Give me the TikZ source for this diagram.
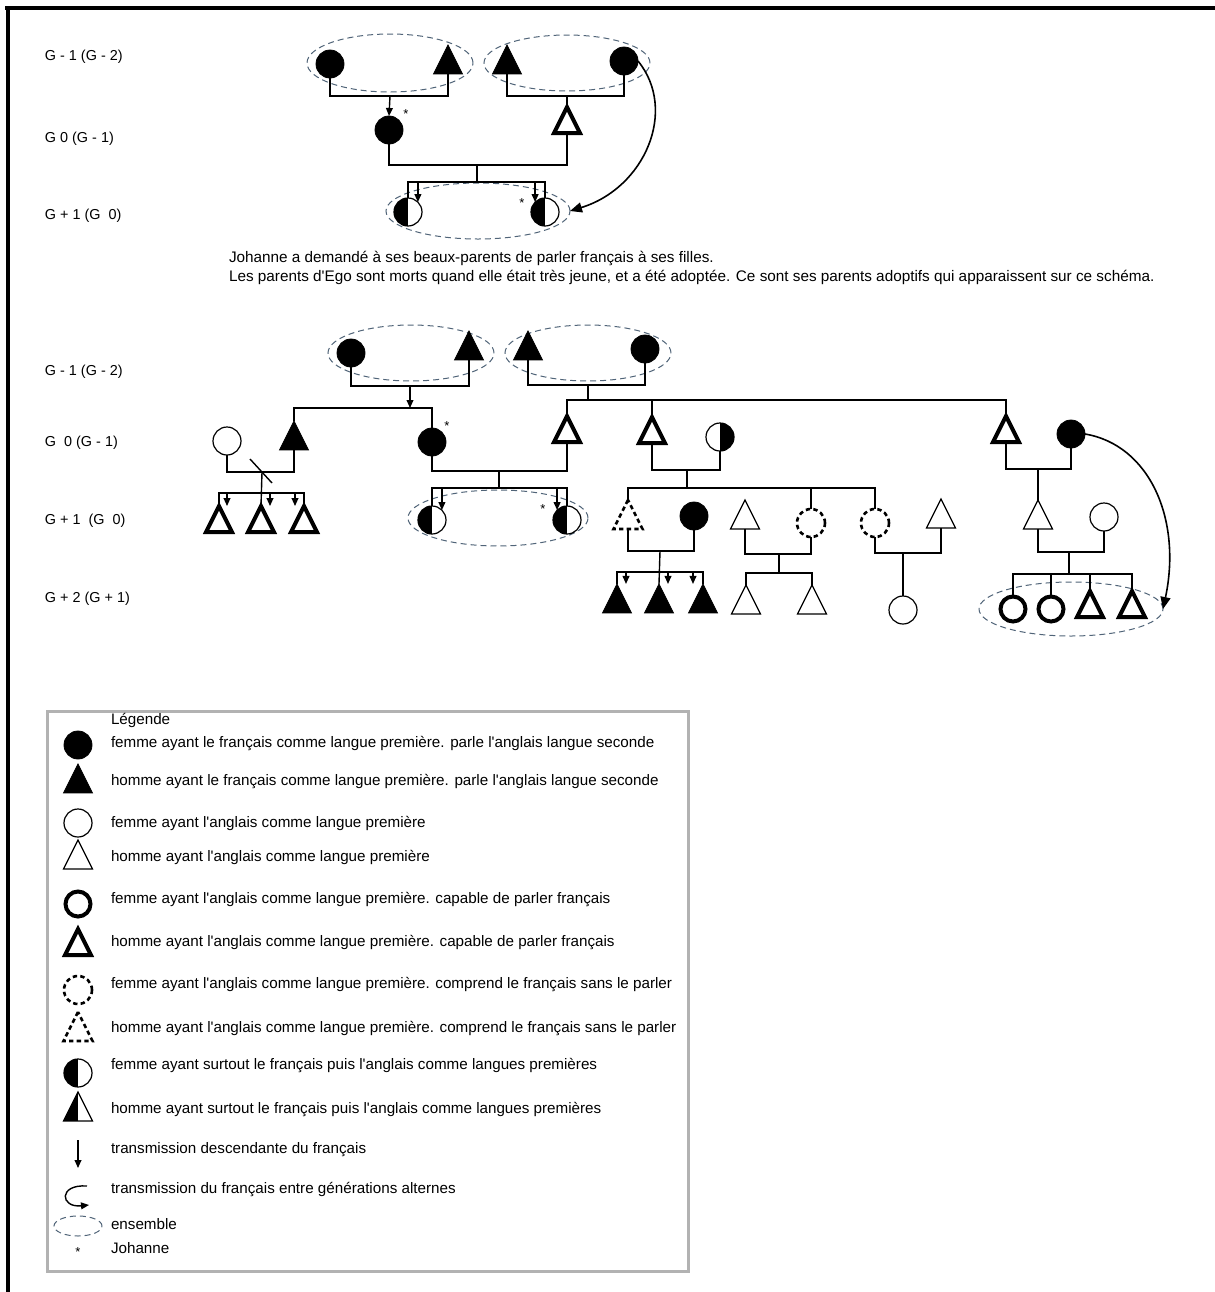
\documentclass[tikz,border=0pt]{standalone}
\usepackage{fontspec}
\setmainfont{Liberation Sans}[Ligatures=TeXOff]
\usetikzlibrary{shapes.geometric,arrows.meta}
\definecolor{ensgray}{RGB}{80,100,120}

\begin{document}
\begin{tikzpicture}[x=0.5pt,y=-0.5pt,
  every node/.style={inner sep=0pt,outer sep=0pt},
  ln/.style={line width=0.7pt},
  descarrow/.style={line width=0.7pt,-{Triangle[length=4pt,width=3.4pt]}},
  altarrow/.style={line width=0.8pt,-{Triangle[length=6pt,width=5pt]}},
  ens/.style={ellipse,draw=ensgray,densely dashed,line width=0.5pt},
  circ/.style={circle,draw,minimum size=14pt},
  fcirc/.style={circ,fill=black},
  ocirc/.style={circ,line width=0.6pt},
  tcirc/.style={circ,line width=2pt,minimum size=12.5pt},
  dcirc/.style={circ,line width=1.3pt,dash pattern=on 2.2pt off 1.6pt},
  halfc/.style={circ,line width=0.6pt,fill=white,path picture={\fill[black] (path picture bounding box.south west) rectangle (path picture bounding box.north);}},
  rhalfc/.style={circ,line width=0.6pt,fill=white,path picture={\fill[black] (path picture bounding box.south) rectangle (path picture bounding box.north east);}},
  tri/.style={isosceles triangle,shape border rotate=90,isosceles triangle stretches,draw,minimum width=14.5pt,minimum height=14.5pt},
  ftri/.style={tri,fill=black},
  otri/.style={tri,line width=0.6pt},
  ttri/.style={tri,line width=2pt,minimum width=13pt,minimum height=13pt},
  dtri/.style={tri,line width=1.3pt,dash pattern=on 2.2pt off 1.6pt},
  halftri/.style={tri,line width=0.6pt,fill=white,path picture={\fill[black] (path picture bounding box.south west) rectangle (path picture bounding box.north);}},
  jo/.style={font=\fontsize{6.5}{6.5}\selectfont},
  gen/.style={anchor=west,font=\fontsize{7.2}{8}\selectfont},
  captxt/.style={anchor=west,font=\fontsize{7.65}{8}\selectfont},
  leg/.style={anchor=west,font=\fontsize{7.6}{8}\selectfont}]
\fill[white] (0,0) rectangle (1215,1292);
\useasboundingbox (0,0) rectangle (1215,1292);
\draw[line width=2pt] (5,8) -- (1215,8);
\draw[line width=2pt] (8,8) -- (8,1292);

\node[gen] (l1) at (45,57) {G - 1 (G - 2)};
\node[gen] (l2) at (45,139) {G 0 (G - 1)};
\node[gen] (l3) at (45,216) {G + 1 (G~~0)};

\node[ens,minimum width=83pt,minimum height=29pt] (ensA) at (390,63) {};
\node[ens,minimum width=83pt,minimum height=28pt] (ensB) at (567,63) {};
\node[ens,minimum width=92pt,minimum height=28pt] (ensC) at (478,211) {};

\node[fcirc] (a1) at (330,64) {};
\node[ftri] (a2) at (448,65) {};
\node[ftri] (a3) at (507,65) {};
\node[fcirc] (a4) at (624,61) {};
\node[fcirc] (b1) at (389,130) {};
\node[ttri] (b2) at (567,125) {};
\node[halfc] (c1) at (408,212) {};
\node[halfc] (c2) at (545,212) {};
\node[jo] (s1) at (406,114) {*};
\node[jo] (s2) at (522,203) {*};

\coordinate (ma) at (390,96);
\coordinate (mb) at (567,96);
\coordinate (mc) at (477,165);
\coordinate (sc) at (477,182);
\draw[ln] (a1.south) |- (ma) -| (a2.south);
\draw[descarrow] (ma) -- (b1.north);
\draw[ln] (a3.south) |- (mb) -| (a4.south);
\draw[ln] (mb) -- (b2.north);
\draw[ln] (b1.south) |- (mc) -| (b2.south);
\draw[ln] (mc) -- (sc);
\draw[ln] (c1.north) |- (sc) -| (c2.north);
\draw[descarrow] (sc -| c1.north east) -- (c1.north east);
\draw[descarrow] (sc -| c2.north west) -- (c2.north west);
\draw[altarrow] (a4.east) .. controls (678,110) and (645,188) .. (ensC.east);

\node[captxt] (t1) at (229,258) {Johanne a demandé à ses beaux-parents de parler français à ses filles.};
\node[captxt] (t2) at (229,277) {Les parents d'Ego sont morts quand elle était très jeune, et a été adoptée. Ce sont ses parents adoptifs qui apparaissent sur ce schéma.};

\node[gen] (l4) at (45,372) {G - 1 (G - 2)};
\node[gen] (l5) at (45,443) {G~~0 (G - 1)};
\node[gen] (l6) at (45,521) {G + 1~~(G~~0)};
\node[gen] (l7) at (45,599) {G + 2 (G + 1)};

\node[ens,minimum width=83pt,minimum height=28pt] (ensD) at (411,353) {};
\node[ens,minimum width=83pt,minimum height=28pt] (ensE) at (588,353) {};
\node[ens,minimum width=90pt,minimum height=28pt] (ensF) at (498,518) {};
\node[ens,minimum width=92pt,minimum height=27pt] (ensG) at (1071,609) {};

\node[fcirc] (d1) at (351,353) {};
\node[ftri] (d2) at (469,351) {};
\node[ftri] (d3) at (528,351) {};
\node[fcirc] (d4) at (645,349) {};

\node[ocirc] (e1) at (227,441) {};
\node[ftri] (e2) at (294,441) {};
\node[fcirc] (e3) at (432,442) {};
\node[ttri] (e4) at (567,434) {};
\node[ttri] (e5) at (652,435) {};
\node[rhalfc] (e6) at (720,437) {};
\node[ttri] (e7) at (1006,434) {};
\node[fcirc] (e8) at (1071,434) {};
\node[jo] (s3) at (447,426) {*};

\node[ttri] (f1) at (219,524) {};
\node[ttri] (f2) at (261,524) {};
\node[ttri] (f3) at (304,524) {};
\node[halfc] (g1) at (432,520) {};
\node[halfc] (g2) at (567,520) {};
\node[jo] (s4) at (543,509) {*};
\node[dtri] (g3) at (628,520) {};
\node[fcirc] (g4) at (694,516) {};
\node[otri] (g5) at (745,520) {};
\node[dcirc] (g6) at (811,523) {};
\node[dcirc] (g7) at (875,523) {};
\node[otri] (g8) at (941,519) {};
\node[otri] (g9) at (1038,520) {};
\node[ocirc] (g10) at (1104,517) {};

\node[ftri] (h1) at (617,604) {};
\node[ftri] (h2) at (659,604) {};
\node[ftri] (h3) at (703,604) {};
\node[otri] (h4) at (746,605) {};
\node[otri] (h5) at (812,605) {};
\node[ocirc] (h6) at (903,610) {};
\node[tcirc] (h7) at (1013,609) {};
\node[tcirc] (h8) at (1051,609) {};
\node[ttri] (h9) at (1090,609) {};
\node[ttri] (h10) at (1132,609) {};

\coordinate (md) at (410,386);
\coordinate (sd) at (410,408);
\coordinate (me) at (588,385);
\coordinate (se) at (588,400);
\coordinate (mf) at (262,472);
\coordinate (sf) at (262,493);
\coordinate (mg) at (499,471);
\coordinate (sg) at (499,488);
\coordinate (mh) at (687,470);
\coordinate (sh) at (687,488);
\coordinate (mi) at (660,551);
\coordinate (si) at (660,572);
\coordinate (mj) at (779,554);
\coordinate (sj) at (779,573);
\coordinate (mk) at (903,553);
\coordinate (ml) at (1038,469);
\coordinate (mm) at (1069,552);
\coordinate (sm) at (1069,574);

\draw[ln] (d1.south) |- (md) -| (d2.south);
\draw[descarrow] (md) -- (sd);
\draw[ln] (e2.north) |- (sd) -| (e3.north);
\draw[ln] (d3.south) |- (me) -| (d4.south);
\draw[ln] (me) -- (se);
\draw[ln] (e4.north) |- (se) -| (e7.north);
\draw[ln] (se -| e5.north) -- (e5.north);

\draw[ln] (e1.south) |- (mf) -| (e2.south);
\draw[ln] ([shift={(-12,-13)}]mf) -- ([shift={(10,11)}]mf);
\draw[ln] (mf) -- (f2.north);
\draw[ln] (f1.north) |- (sf) -| (f3.north);
\draw[descarrow] ([xshift=4pt]sf -| f1.north) -- ([xshift=4pt]f1.north);
\draw[descarrow] ([xshift=4.5pt]sf -| f2.north) -- ([xshift=4.5pt]f2.north);
\draw[descarrow] ([xshift=-4.5pt]sf -| f3.north) -- ([xshift=-4.5pt]f3.north);

\draw[ln] (e3.south) |- (mg) -| (e4.south);
\draw[ln] (mg) -- (sg);
\draw[ln] (g1.north) |- (sg) -| (g2.north);
\draw[descarrow] (sg -| g1.north east) -- (g1.north east);
\draw[descarrow] (sg -| g2.north west) -- (g2.north west);

\draw[ln] (e5.south) |- (mh) -| (e6.south);
\draw[ln] (mh) -- (sh);
\draw[ln] (g3.north) |- (sh) -| (g7.north);
\draw[ln] (sh -| g6.north) -- (g6.north);

\draw[ln] (g3.south) |- (mi) -| (g4.south);
\draw[ln] (mi) -- (h2.north);
\draw[ln] (h1.north) |- (si) -| (h3.north);
\draw[descarrow] ([xshift=4.5pt]si -| h1.north) -- ([xshift=4.5pt]h1.north);
\draw[descarrow] ([xshift=4.5pt]si -| h2.north) -- ([xshift=4.5pt]h2.north);
\draw[descarrow] ([xshift=-5pt]si -| h3.north) -- ([xshift=-5pt]h3.north);

\draw[ln] (g5.south) |- (mj) -| (g6.south);
\draw[ln] (mj) -- (sj);
\draw[ln] (h4.north) |- (sj) -| (h5.north);

\draw[ln] (g7.south) |- (mk) -| (g8.south);
\draw[ln] (mk) -- (h6.north);

\draw[ln] (e7.south) |- (ml) -| (e8.south);
\draw[ln] (ml) -- (g9.north);
\draw[ln] (g9.south) |- (mm) -| (g10.south);
\draw[ln] (mm) -- (sm);
\draw[ln] (h7.north) |- (sm) -| (h10.north);
\draw[ln] (sm -| h8.north) -- (h8.north);
\draw[ln] (sm -| h9.north) -- (h9.north);
\draw[altarrow] (e8.east) .. controls (1150,445) and (1182,520) .. (ensG.east);

\draw[black!30,line width=1.5pt] (47,711) rectangle (688,1271);
\node[leg] (lg0) at (111,720) {Légende};
\node[fcirc] (k1) at (78,745) {};
\node[leg] (lg1) at (111,744) {femme ayant le français comme langue première. parle l'anglais langue seconde};
\node[ftri] (k2) at (78,784) {};
\node[leg] (lg2) at (111,782) {homme ayant le français comme langue première. parle l'anglais langue seconde};
\node[ocirc] (k3) at (78,823) {};
\node[leg] (lg3) at (111,823) {femme ayant l'anglais comme langue première};
\node[otri] (k4) at (78,860) {};
\node[leg] (lg4) at (111,857) {homme ayant l'anglais comme langue première};
\node[tcirc] (k5) at (78,904) {};
\node[leg] (lg5) at (111,900) {femme ayant l'anglais comme langue première. capable de parler français};
\node[ttri] (k6) at (78,947) {};
\node[leg] (lg6) at (111,943) {homme ayant l'anglais comme langue première. capable de parler français};
\node[dcirc] (k7) at (78,990) {};
\node[leg] (lg7) at (111,985) {femme ayant l'anglais comme langue première. comprend le français sans le parler};
\node[dtri] (k8) at (78,1032) {};
\node[leg] (lg8) at (111,1028) {homme ayant l'anglais comme langue première. comprend le français sans le parler};
\node[halfc] (k9) at (78,1073) {};
\node[leg] (lg9) at (111,1066) {femme ayant surtout le français puis l'anglais comme langues premières};
\node[halftri] (k10) at (78,1112) {};
\node[leg] (lg10) at (111,1109) {homme ayant surtout le français puis l'anglais comme langues premières};
\coordinate (k11a) at (78,1140);
\coordinate (k11b) at (78,1168);
\draw[descarrow] (k11a) -- (k11b);
\node[leg] (lg11) at (111,1150) {transmission descendante du français};
\coordinate (k12a) at (87,1186);
\coordinate (k12b) at (89,1205);
\draw[descarrow] (k12a) .. controls (58,1184) and (60,1208) .. (k12b);
\node[leg] (lg12) at (111,1189) {transmission du français entre générations alternes};
\node[ens,minimum width=24pt,minimum height=10pt] (k13) at (78,1226) {};
\node[leg] (lg13) at (111,1224) {ensemble};
\node[jo] (k14) at (78,1252) {*};
\node[leg] (lg14) at (111,1248) {Johanne};
\end{tikzpicture}
\end{document}
